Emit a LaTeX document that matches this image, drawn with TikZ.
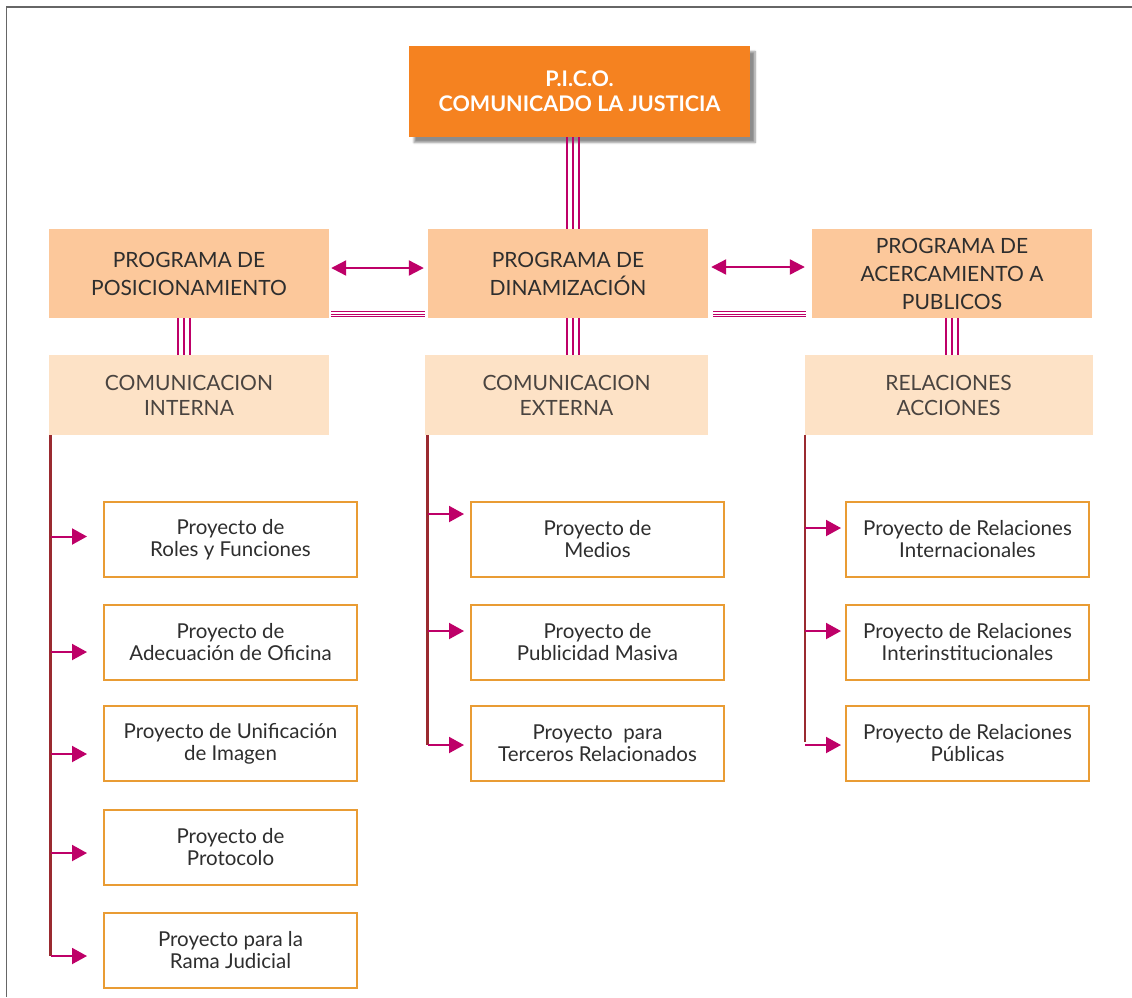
\documentclass[tikz,border=0pt]{standalone}
\usepackage{fontspec}
\setmainfont{Lato}
\usetikzlibrary{arrows.meta,shadows.blur}
\definecolor{orangeC}{HTML}{F58220}
\definecolor{progC}{HTML}{FCC89B}
\definecolor{subC}{HTML}{FDE2C6}
\definecolor{projC}{HTML}{E99C34}
\definecolor{magC}{HTML}{BE0068}
\definecolor{lineC}{HTML}{9A2A30}
\definecolor{textC}{HTML}{2E2E2E}
\definecolor{subT}{HTML}{4A4440}
\definecolor{frameC}{HTML}{666666}
\begin{document}
\begin{tikzpicture}[x=1pt,y=-1pt,
  framestyle/.style={draw=frameC,line width=1.5pt},
  topbox/.style={fill=orangeC,minimum width=341pt,minimum height=91pt,inner sep=0pt,
    text=white,align=center,font=\bfseries\fontsize{21.5}{25}\selectfont,
    blur shadow={shadow xshift=5pt,shadow yshift=-6pt,shadow blur steps=8,shadow opacity=45}},
  progbox/.style={fill=progC,minimum width=280pt,minimum height=89pt,inner sep=0pt,
    text=textC,align=center,font=\fontsize{21}{28}\selectfont},
  subbox/.style={fill=subC,minimum height=80pt,inner sep=0pt,
    text=subT,align=center,font=\fontsize{21}{25}\selectfont},
  projbox/.style={draw=projC,line width=2pt,fill=white,minimum width=253pt,minimum height=75pt,
    inner sep=0pt,text=textC,align=center,font=\fontsize{20.5}{22}\selectfont},
  triline/.style={draw=magC,line width=1.1pt},
  darr/.style={draw=magC,line width=2.2pt,{Triangle[length=15pt,width=15pt]}-{Triangle[length=15pt,width=15pt]}},
  arr/.style={draw=magC,line width=2pt,-{Triangle[length=15pt,width=16pt]}},
  vline/.style={draw=lineC,line width=2.2pt}
]
\useasboundingbox (0,0) rectangle (1132,997);
\draw[framestyle] (1132,7) -- (6.5,7) -- (6.5,997);

% top
\node[topbox] (top) at (579.5,91) {P.I.C.O.\\COMUNICADO LA JUSTICIA};

% programs
\node[progbox] (pl) at (189,273.5) {PROGRAMA DE\\POSICIONAMIENTO};
\node[progbox] (pm) at (568,273.5) {PROGRAMA DE\\DINAMIZACIÓN};
\node[progbox] (pr) at (952,273.5) {PROGRAMA DE\\ACERCAMIENTO A\\PUBLICOS};

% sub
\node[subbox,minimum width=280pt] (sl) at (189,395) {COMUNICACION\\INTERNA};
\node[subbox,minimum width=283pt] (sm) at (566.5,395) {COMUNICACION\\EXTERNA};
\node[subbox,minimum width=288pt] (sr) at (948.5,395) {RELACIONES\\ACCIONES};

% projects left
\node[projbox] (l1) at (230.5,539.5) {Proyecto de\\Roles y Funciones};
\node[projbox] (l2) at (230.5,642.5) {Proyecto de\\Adecuación de Oficina};
\node[projbox] (l3) at (230.5,743.5) {Proyecto de Unificación\\de Imagen};
\node[projbox] (l4) at (230.5,847.5) {Proyecto de\\Protocolo};
\node[projbox] (l5) at (230.5,950.5) {Proyecto para la\\Rama Judicial};
% projects middle
\node[projbox] (m1) at (597.5,539.5) {Proyecto de\\Medios};
\node[projbox] (m2) at (597.5,642) {Proyecto de\\Publicidad Masiva};
\node[projbox] (m3) at (597.5,743.5) {Proyecto\ \ para\\Terceros Relacionados};
% projects right
\node[projbox,minimum width=243pt] (r1) at (967.5,539.5) {Proyecto de Relaciones\\Internacionales};
\node[projbox,minimum width=243pt] (r2) at (967.5,642) {Proyecto de Relaciones\\Interinstitucionales};
\node[projbox,minimum width=243pt] (r3) at (967.5,743.5) {Proyecto de Relaciones\\Públicas};

% triple vertical connectors
\coordinate (cTop) at (573,137);
\foreach \d in {-6,0,6}{
  \draw[triline,transform canvas={xshift=\d pt}] (cTop) -- (cTop |- pm.north);
}
\coordinate (cL) at (184,318);
\coordinate (cM) at (573,318);
\coordinate (cR) at (952,318);
\foreach \c in {cL,cM,cR}{
  \foreach \d in {-6,0,6}{
    \draw[triline,transform canvas={xshift=\d pt}] (\c) -- (\c |- sl.north);
  }
}

% horizontal triple lines
\foreach \d in {-2.3,0,2.3}{
  \draw[draw=magC,line width=0.9pt,transform canvas={yshift=\d pt},shorten <=2pt,shorten >=3pt]
    ([yshift=4pt]pl.south east) -- ([yshift=4pt]pm.south west);
  \draw[draw=magC,line width=0.9pt,transform canvas={yshift=\d pt},shorten <=5pt,shorten >=6pt]
    ([yshift=4pt]pm.south east) -- ([yshift=4pt]pr.south west);
}

% double arrows
\draw[darr,shorten <=2pt,shorten >=4pt] ([yshift=5.5pt]pl.east) -- ([yshift=5.5pt]pm.west);
\draw[darr,shorten <=3pt,shorten >=7pt] ([yshift=6.5pt]pm.east) -- ([yshift=6.5pt]pr.west);

% left column
\coordinate (la1) at (50.5,536.5);
\coordinate (la2) at (50.5,652);
\coordinate (la3) at (50.5,754);
\coordinate (la4) at (50.5,853);
\coordinate (la5) at (50.5,956);
\draw[vline] (la5 |- sl.south) -- (la5);
\draw[arr,shorten >=16pt] (la1) -- (la1 -| l1.west);
\draw[arr,shorten >=16pt] (la2) -- (la2 -| l2.west);
\draw[arr,shorten >=16pt] (la3) -- (la3 -| l3.west);
\draw[arr,shorten >=16pt] (la4) -- (la4 -| l4.west);
\draw[arr,shorten >=16pt] (la5) -- (la5 -| l5.west);

% middle column
\coordinate (ma1) at (427.5,514);
\coordinate (ma2) at (427.5,631);
\coordinate (ma3) at (427.5,745);
\draw[vline] (ma3 |- sm.south) -- (ma3);
\draw[arr,shorten >=6pt] (ma1) -- (ma1 -| m1.west);
\draw[arr,shorten >=6pt] (ma2) -- (ma2 -| m2.west);
\draw[arr,shorten >=6pt] (ma3) -- (ma3 -| m3.west);

% right column
\coordinate (ra1) at (805,528);
\coordinate (ra2) at (805,631);
\coordinate (ra3) at (805,745);
\draw[vline] (ra3 |- sr.south) -- ([yshift=3pt]ra3);
\draw[arr,shorten >=4pt] (ra1) -- (ra1 -| r1.west);
\draw[arr,shorten >=4pt] (ra2) -- (ra2 -| r2.west);
\draw[arr,shorten >=4pt] (ra3) -- (ra3 -| r3.west);
\end{tikzpicture}
\end{document}
